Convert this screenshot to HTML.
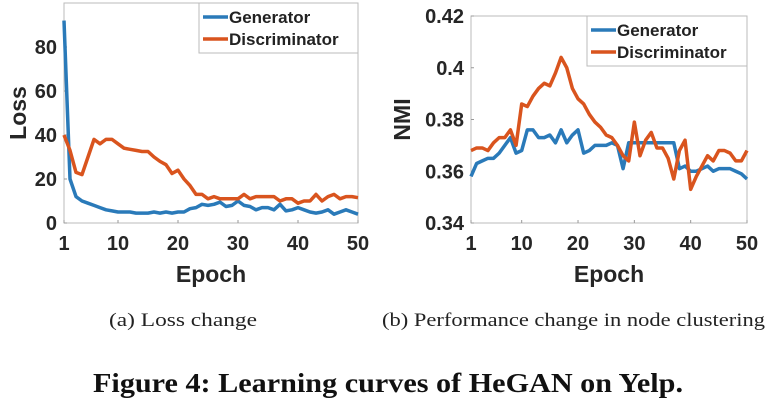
<!DOCTYPE html>
<html><head><meta charset="utf-8"><style>
html,body{margin:0;padding:0;background:#fff;}
svg{display:block;}
text{font-family:"Liberation Sans",Arial,sans-serif;}
.tick{font-size:20px;font-weight:bold;fill:#262626;}
.cap{font-family:"Liberation Serif",serif;font-size:19px;fill:#222;}
</style></head><body>
<svg id="fig" width="773" height="401" viewBox="0 0 773 401">
<text class="cap" x="109" y="326" textLength="148" lengthAdjust="spacingAndGlyphs">(a)  Loss change</text>
<text class="cap" x="382" y="326" textLength="383" lengthAdjust="spacingAndGlyphs">(b)  Performance change in node clustering</text>
<text x="93" y="392" textLength="590" lengthAdjust="spacingAndGlyphs" style="font-family:'Liberation Serif',serif;font-weight:bold;font-size:27px;fill:#111">Figure 4: Learning curves of HeGAN on Yelp.</text>
</svg>
<script>
const epochs=[];for(let i=1;i<=50;i++)epochs.push(i);
const xTicks=[1,10,20,30,40,50];
const lossTicks=[0,20,40,60,80];
const nmiTicks=[0.34,0.36,0.38,0.4,0.42];
const nmiTickLabels=["0.34","0.36","0.38","0.4","0.42"];
const lossGen=[92,20,12,10,9,8,7,6,5.5,5,5,5,4.5,4.5,4.5,5,4.5,5,4.5,5,5,6.5,7,8.5,8,8.5,9.5,7.5,8,10,8,7.5,6,7,7,6,8.5,5.5,6,7,6,5,4.5,5,6,4,5,6,5,4];
const lossDis=[40,33,23,22,30,38,36,38,38,36,34,33.5,33,32.5,32.5,30,28,26.5,22.5,24,20,17,13,13,11,12,11,11,11,11,13,11,12,12,12,12,10,11,11,9,10,10,13,10,12,13,11,12,12,11.5];
const nmiGen=[0.358,0.363,0.364,0.365,0.365,0.367,0.370,0.373,0.367,0.368,0.376,0.376,0.373,0.373,0.374,0.371,0.376,0.371,0.374,0.376,0.367,0.368,0.370,0.370,0.370,0.371,0.370,0.361,0.371,0.371,0.371,0.371,0.371,0.371,0.371,0.371,0.371,0.361,0.362,0.360,0.360,0.361,0.362,0.360,0.361,0.361,0.361,0.360,0.359,0.357];
const nmiDis=[0.368,0.369,0.369,0.368,0.371,0.373,0.373,0.376,0.370,0.386,0.385,0.389,0.392,0.394,0.393,0.398,0.404,0.400,0.392,0.388,0.386,0.382,0.379,0.377,0.374,0.373,0.370,0.366,0.364,0.379,0.366,0.372,0.375,0.369,0.369,0.365,0.357,0.368,0.372,0.353,0.358,0.362,0.366,0.364,0.368,0.368,0.367,0.364,0.364,0.368];

const NS="http://www.w3.org/2000/svg";
const svg=document.getElementById('fig');
function mk(tag,attrs,parent){const e=document.createElementNS(NS,tag);for(const k in attrs)e.setAttribute(k,attrs[k]);(parent||svg).appendChild(e);return e;}

function chart(o){
  const g=mk('g',{});
  
  
  const xs=v=>o.x0+(v-1)/(49)*(o.x1-o.x0);
  const ys=v=>o.yb-(v-o.ymin)/(o.ymax-o.ymin)*(o.yb-o.yt);
  const box=mk('rect',{x:o.x0,y:o.yt,width:o.x1-o.x0,height:o.yb-o.yt,fill:'none',stroke:'#bbb','stroke-width':1},g);
  
  
  xTicks.forEach(t=>{
    mk('line',{x1:xs(t),x2:xs(t),y1:o.yb,y2:o.yb-3,stroke:'#999'},g);
    const tx=mk('text',{x:xs(t),y:o.yb+27,'text-anchor':'middle',class:'tick'},g);tx.textContent=t;
    
    
  });
  o.yTicks.forEach((t,i)=>{
    mk('line',{x1:o.x0,x2:o.x0+3,y1:ys(t),y2:ys(t),stroke:'#999'},g);
    const tx=mk('text',{x:o.x0-7,y:ys(t)+7,'text-anchor':'end',class:'tick'},g);tx.textContent=o.yLabels[i];
    
    
  });
  const xt=mk('text',{x:(o.x0+o.x1)/2,y:282,'text-anchor':'middle',style:'font-size:23px;font-weight:bold;fill:#262626'},g);xt.textContent='Epoch';
  
  
  const yt=mk('text',{x:0,y:0,'text-anchor':'middle',transform:`translate(${o.ytx},${(o.yt+o.yb)/2}) rotate(-90)`,style:'font-size:23px;font-weight:bold;fill:#262626'},g);yt.textContent=o.ytitle;
  
  
  [[o.gen,'#2a7ab9','generator-line'],[o.dis,'#d9541e','discriminator-line']].forEach(([d,c,n])=>{
    const p=mk('polyline',{points:d.map((v,i)=>xs(epochs[i])+','+ys(v)).join(' '),fill:'none',stroke:c,'stroke-width':3.5,'stroke-linejoin':'round'},g);
    
    
  });
  const lg=mk('g',{},g);
  
  
  mk('rect',{x:o.lx,y:o.ly,width:o.x1-o.lx,height:50,fill:'#fff',stroke:'#bbb'},lg);
  [['Generator','#2a7ab9'],['Discriminator','#d9541e']].forEach(([n,c],i)=>{
    const yy=o.ly+14+i*22;
    mk('line',{x1:o.lx+4,x2:o.lx+29,y1:yy,y2:yy,stroke:c,'stroke-width':3.5},lg);
    const t=mk('text',{x:o.lx+30,y:yy+6,style:'font-size:17px;font-weight:bold;fill:#222'},lg);t.textContent=n;
    
    
  });
}
chart({name:'loss-chart',x0:64,x1:358,yt:3,yb:223,ymin:0,ymax:100,yTicks:lossTicks,yLabels:lossTicks.map(String),gen:lossGen,dis:lossDis,ytitle:'Loss',ytx:26,lx:199,ly:3});
chart({name:'nmi-chart',x0:471,x1:747,yt:16,yb:223,ymin:0.34,ymax:0.42,yTicks:nmiTicks,yLabels:nmiTickLabels,gen:nmiGen,dis:nmiDis,ytitle:'NMI',ytx:410,lx:587,ly:16});
</script>
</body></html>
